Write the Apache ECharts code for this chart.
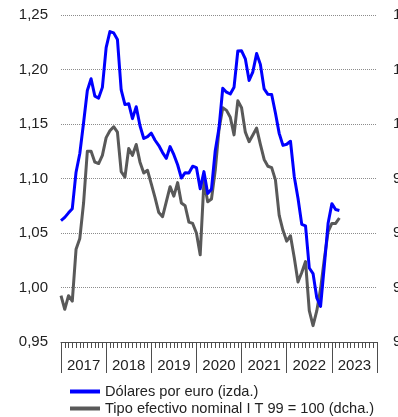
<!DOCTYPE html>
<html>
<head>
<meta charset="utf-8">
<script src="https://cdn.jsdelivr.net/npm/echarts@6/dist/echarts.min.js"></script>
<style>
  html, body { margin: 0; padding: 0; background: #ffffff; }
  #chart { width: 398px; height: 417px; }
</style>
</head>
<body>
<div id="chart"></div>
<script>
// Year bands on the time axis (each band = 12 monthly slots)
const years = ['2017', '2018', '2019', '2020', '2021', '2022', '2023'];

// Monthly averages, January 2017 onwards
const usdPerEuro = [
  1.0614, 1.0643, 1.0685, 1.0723, 1.1058, 1.1229, 1.1511, 1.1807, 1.1915, 1.1756, 1.1738, 1.1836,
  1.2200, 1.2348, 1.2336, 1.2276, 1.1812, 1.1678, 1.1686, 1.1549, 1.1659, 1.1484, 1.1367, 1.1384,
  1.1416, 1.1351, 1.1302, 1.1238, 1.1185, 1.1293, 1.1218, 1.1126, 1.1004, 1.1053, 1.1051, 1.1113,
  1.1100, 1.0905, 1.1063, 1.0862, 1.0902, 1.1255, 1.1463, 1.1828, 1.1792, 1.1775, 1.1838, 1.2170,
  1.2171, 1.2098, 1.1899, 1.1979, 1.2146, 1.2047, 1.1822, 1.1772, 1.1770, 1.1601, 1.1414, 1.1304,
  1.1314, 1.1342, 1.1019, 1.0819, 1.0579, 1.0566, 1.0179, 1.0128, 0.9904, 0.9826, 1.0201, 1.0589,
  1.0769, 1.0715, 1.0706
];

// Nominal effective exchange rate index, I T 99 = 100
const nominalEffective = [
  93.7, 93.2, 93.7, 93.5, 95.4, 95.8, 97.1, 99.0, 99.0, 98.6, 98.55, 98.85,
  99.5, 99.75, 99.9, 99.7, 98.25, 98.05, 99.1, 98.85, 99.25, 98.6, 98.2, 98.3,
  97.8, 97.3, 96.75, 96.6, 97.15, 97.7, 97.35, 97.85, 97.1, 97.0, 96.4, 96.35,
  96.0, 95.2, 97.9, 97.15, 97.25, 98.3, 99.8, 100.6, 100.5, 100.25, 99.6, 100.85,
  100.6, 99.7, 99.35, 99.6, 99.85, 99.25, 98.7, 98.45, 98.4, 97.95, 96.65, 96.1,
  95.7, 95.9, 95.1, 94.2, 94.55, 94.95, 93.15, 92.6, 93.15, 93.95, 95.05, 96.05,
  96.35, 96.35, 96.55
];

const seriesNames = ['Dólares por euro (izda.)', 'Tipo efectivo nominal I T 99 = 100 (dcha.)'];

const leftAxis = { min: 0.95, max: 1.25, step: 0.05 };
const rightAxis = { min: 92, max: 104, step: 2 };

const textColor = '#222222';
const font = 'Liberation Sans, Arial, sans-serif';
const totalMonths = years.length * 12;

const chart = echarts.init(document.getElementById('chart'), null, { renderer: 'canvas' });

chart.setOption({
  animation: false,
  backgroundColor: '#ffffff',
  grid: { left: 61, right: 21, top: 15, bottom: 75, containLabel: false, outerBoundsMode: 'none' },
  legend: {
    orient: 'vertical',
    left: 70,
    top: 384,
    width: 320,
    height: 40,
    padding: 0,
    itemWidth: 30,
    itemHeight: 4,
    itemGap: 2,
    icon: 'rect',
    data: seriesNames,
    textStyle: { color: textColor, fontSize: 14.6, fontFamily: font, lineHeight: 15 }
  },
  xAxis: [
    {
      // monthly tick comb
      type: 'value',
      position: 'bottom',
      min: 0,
      max: totalMonths,
      interval: 1,
      axisLine: { show: true, lineStyle: { color: '#4d4d4d', width: 1 } },
      axisTick: { show: true, length: 6, lineStyle: { color: '#4d4d4d', width: 1 } },
      axisLabel: { show: false },
      splitLine: { show: false }
    },
    {
      // year bands with long separators
      type: 'category',
      position: 'bottom',
      data: years,
      boundaryGap: true,
      axisLine: { show: false },
      axisTick: { show: true, interval: 0, length: 31, lineStyle: { color: '#4d4d4d', width: 1 } },
      axisLabel: { interval: 0, color: textColor, fontSize: 15, fontFamily: font, margin: 16 },
      splitLine: { show: false }
    }
  ],
  yAxis: [
    {
      type: 'value',
      position: 'left',
      min: leftAxis.min,
      max: leftAxis.max,
      interval: leftAxis.step,
      axisLine: { show: false },
      axisTick: { show: false },
      axisLabel: {
        color: textColor, fontSize: 15, fontFamily: font, margin: 13,
        formatter: v => v.toFixed(2).replace('.', ',')
      },
      splitLine: { show: true, lineStyle: { color: '#8c8c8c', type: 'dotted', width: 1 } }
    },
    {
      type: 'value',
      position: 'right',
      min: rightAxis.min,
      max: rightAxis.max,
      interval: rightAxis.step,
      axisLine: { show: false },
      axisTick: { show: false },
      axisLabel: {
        color: textColor, fontSize: 15, fontFamily: font, margin: 16,
        formatter: v => String(v)
      },
      splitLine: { show: false }
    }
  ],
  series: [
    {
      name: seriesNames[0],
      type: 'line',
      xAxisIndex: 0,
      yAxisIndex: 0,
      data: usdPerEuro.map((v, i) => [i, v]),
      showSymbol: false,
      symbol: 'none',
      itemStyle: { color: '#0000ff' },
      lineStyle: { color: '#0000ff', width: 3, join: 'round' },
      z: 3
    },
    {
      name: seriesNames[1],
      type: 'line',
      xAxisIndex: 0,
      yAxisIndex: 1,
      data: nominalEffective.map((v, i) => [i, v]),
      showSymbol: false,
      symbol: 'none',
      itemStyle: { color: '#595959' },
      lineStyle: { color: '#595959', width: 3, join: 'round' },
      z: 2
    }
  ]
});
</script>
</body>
</html>
